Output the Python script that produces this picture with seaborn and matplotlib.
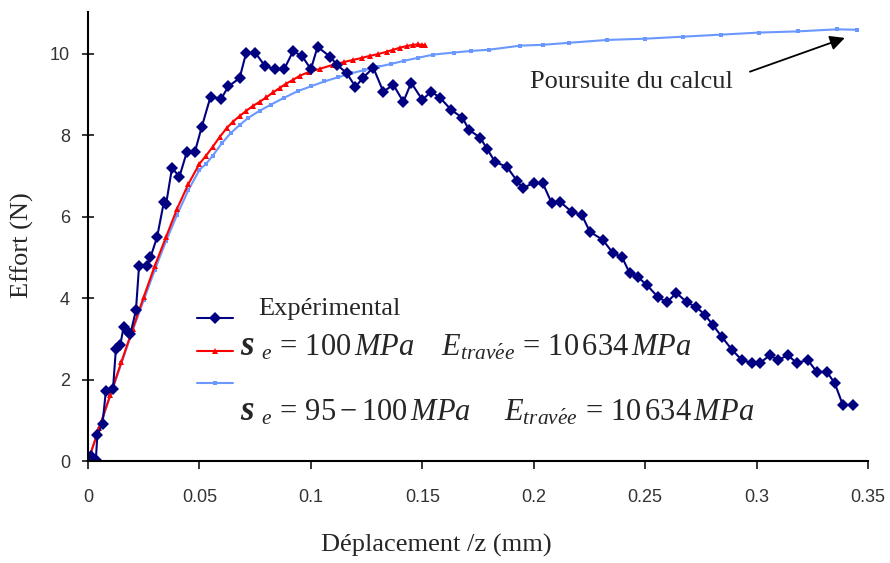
import pandas as pd
import seaborn as sns
import matplotlib.pyplot as plt

# Experimental curve (displacement in mm, force in N)
exp_x = [0.0013, 0.0035, 0.0042, 0.0065, 0.008, 0.0112, 0.0125, 0.0145, 0.016, 0.018,
         0.019, 0.0215, 0.0229, 0.0265, 0.028, 0.031, 0.034, 0.035, 0.0377, 0.041,
         0.0444, 0.048, 0.051, 0.055, 0.0597, 0.063, 0.068, 0.071, 0.075, 0.0794,
         0.084, 0.088, 0.092, 0.096, 0.1, 0.103, 0.1086, 0.1117, 0.116, 0.12,
         0.1234, 0.128, 0.1325, 0.137, 0.1415, 0.145, 0.15, 0.154, 0.158, 0.163,
         0.168, 0.171, 0.176, 0.179, 0.1826, 0.188, 0.1925, 0.195, 0.2, 0.204,
         0.208, 0.212, 0.217, 0.2216, 0.2252, 0.231, 0.2355, 0.2396, 0.243, 0.2467,
         0.2508, 0.2557, 0.2598, 0.264, 0.2687, 0.273, 0.2768, 0.2804, 0.2844, 0.289,
         0.2934, 0.298, 0.3015, 0.306, 0.3096, 0.314, 0.318, 0.323, 0.327, 0.3315,
         0.335, 0.3387, 0.3432]
exp_y = [0.12, 0.03, 0.64, 0.91, 1.72, 1.76, 2.75, 2.86, 3.3, 3.17,
         3.12, 3.7, 4.79, 4.8, 5.0, 5.5, 6.35, 6.3, 7.2, 6.98,
         7.6, 7.6, 8.2, 8.95, 8.89, 9.2, 9.4, 10.03, 10.03, 9.7,
         9.62, 9.62, 10.06, 9.95, 9.62, 10.17, 9.93, 9.73, 9.53, 9.19,
         9.41, 9.66, 9.07, 9.24, 8.82, 9.29, 8.87, 9.07, 8.92, 8.62,
         8.43, 8.13, 7.94, 7.67, 7.35, 7.22, 6.88, 6.7, 6.83, 6.83,
         6.34, 6.36, 6.12, 6.04, 5.63, 5.43, 5.11, 5.01, 4.62, 4.52,
         4.32, 4.03, 3.9, 4.13, 3.9, 3.78, 3.59, 3.34, 3.05, 2.73,
         2.48, 2.41, 2.41, 2.6, 2.48, 2.6, 2.41, 2.48, 2.19, 2.19,
         1.92, 1.38, 1.38]

# Simulation, sigma_e = 100 MPa
red_x = [0.0, 0.005, 0.01, 0.015, 0.02, 0.025, 0.03, 0.035, 0.04, 0.045,
         0.05, 0.053, 0.056, 0.059, 0.0623, 0.065, 0.068, 0.071, 0.074, 0.077,
         0.08, 0.083, 0.086, 0.089, 0.092, 0.095, 0.099, 0.104, 0.11, 0.115,
         0.119, 0.123, 0.1265, 0.13, 0.134, 0.137, 0.14, 0.143, 0.146, 0.148,
         0.15, 0.151]
red_y = [0.0, 0.82, 1.63, 2.44, 3.24, 4.03, 4.8, 5.5, 6.2, 6.8,
         7.3, 7.5, 7.72, 7.95, 8.18, 8.33, 8.47, 8.6, 8.72, 8.82,
         8.93, 9.05, 9.16, 9.27, 9.36, 9.46, 9.55, 9.63, 9.73, 9.8,
         9.85, 9.9, 9.95, 9.99, 10.05, 10.1, 10.15, 10.19, 10.22, 10.23,
         10.22, 10.21]

# Simulation, sigma_e = 95-100 MPa (continued further)
blue_x = [0.0, 0.005, 0.01, 0.015, 0.02, 0.025, 0.03, 0.035, 0.04, 0.045,
          0.05, 0.053, 0.056, 0.06, 0.064, 0.068, 0.072, 0.077, 0.082, 0.088,
          0.094, 0.1, 0.106, 0.112, 0.118, 0.124, 0.13, 0.136, 0.142, 0.148,
          0.155, 0.164, 0.172, 0.18, 0.194, 0.204, 0.216, 0.233, 0.25, 0.267,
          0.284, 0.301, 0.3185, 0.336, 0.345]
blue_y = [0.0, 0.8, 1.6, 2.4, 3.2, 3.95, 4.7, 5.4, 6.05, 6.65,
          7.15, 7.3, 7.5, 7.8, 8.05, 8.25, 8.43, 8.6, 8.75, 8.92,
          9.08, 9.2, 9.32, 9.42, 9.52, 9.6, 9.68, 9.75, 9.83, 9.9,
          9.98, 10.03, 10.07, 10.1, 10.2, 10.22, 10.27, 10.34, 10.37, 10.42,
          10.47, 10.52, 10.55, 10.6, 10.59]

exp_df = pd.DataFrame({"x": exp_x, "y": exp_y})
red_df = pd.DataFrame({"x": red_x, "y": red_y})
blue_df = pd.DataFrame({"x": blue_x, "y": blue_y})

sns.set_style("ticks")
plt.rcParams["font.family"] = ["Liberation Serif", "DejaVu Serif"]
plt.rcParams["mathtext.fontset"] = "custom"
plt.rcParams["mathtext.rm"] = "Liberation Serif"
plt.rcParams["mathtext.it"] = "Liberation Serif:italic"
plt.rcParams["mathtext.bf"] = "Liberation Serif:bold"

fig = plt.figure(figsize=(8.9, 5.63), dpi=100)
ax = fig.add_axes([0.0989, 0.181, 0.8764, 0.798])

navy = "#000080"
red = "#ff0000"
light_blue = "#6a98ff"

sns.lineplot(data=blue_df, x="x", y="y", ax=ax, color=light_blue, lw=1.5,
             marker="s", markersize=3.5, markeredgewidth=0, sort=False,
             estimator=None, legend=False)
sns.lineplot(data=red_df, x="x", y="y", ax=ax, color=red, lw=1.5,
             marker="^", markersize=5, markeredgewidth=0, sort=False,
             estimator=None, legend=False)
sns.lineplot(data=exp_df, x="x", y="y", ax=ax, color=navy, lw=1.5,
             marker="D", markersize=6.5, markeredgewidth=0, sort=False,
             estimator=None, legend=False)

ax.set_xlim(0, 0.35)
ax.set_ylim(0, 11.03)
ax.set_xticks([0, 0.05, 0.1, 0.15, 0.2, 0.25, 0.3, 0.35])
ax.set_xticklabels(["0", "0.05", "0.1", "0.15", "0.2", "0.25", "0.3", "0.35"])
ax.set_yticks([0, 2, 4, 6, 8, 10])
sns.despine(ax=ax)
for s in ["left", "bottom"]:
    ax.spines[s].set_linewidth(1.5)
    ax.spines[s].set_color("black")
ax.tick_params(axis="x", direction="out", length=6, width=1.3, pad=14)
ax.tick_params(axis="y", direction="inout", length=8, width=1.3, pad=9)
for lab in ax.get_xticklabels() + ax.get_yticklabels():
    lab.set_fontfamily("Liberation Sans")
    lab.set_fontsize(13)
    lab.set_color("#333333")

ax.set_xlabel("Déplacement /z (mm)", fontsize=19)
ax.set_ylabel("Effort (N)", fontsize=19)
ax.xaxis.set_label_coords(0.447, -0.163)
ax.yaxis.set_label_coords(-0.069, 0.48)

# Legend keys only; the labels are written as separate texts
lines = ax.get_lines()
ax.legend(handles=[lines[2], lines[1], lines[0]], labels=[" ", " ", " "],
          loc="upper left", bbox_to_anchor=(0.14, 0.333), frameon=False,
          fontsize=13, handlelength=2.0, borderpad=0, borderaxespad=0,
          labelspacing=0.85, handletextpad=0.2)

ax.text(0.218, 0.326, "Expérimental", transform=ax.transAxes,
        fontsize=19, va="baseline")

# sigma symbol rendered as a bold italic "s", as in the source figure
for yb, rest in [
    (0.236, r"$_{e}\,=\,100\,MPa\quad\; E_{trav\acute{e}e}\,=\,10\,634\,MPa$"),
    (0.091, r"$_{e}\,=\,95-100\,MPa\quad\;\; E_{trav\acute{e}e}\,=\,10\,634\,MPa$"),
]:
    ax.text(0.1955, yb, "s", transform=ax.transAxes, fontsize=25,
            fontweight="bold", fontstyle="italic", va="baseline")
    ax.text(0.222, yb, rest, transform=ax.transAxes, fontsize=22,
            va="baseline")

ax.text(0.1983, 9.31, "Poursuite du calcul", fontsize=19, va="center")
ax.annotate("", xy=(0.3396, 10.39), xytext=(0.297, 9.56),
            arrowprops=dict(arrowstyle="-|>", color="black", lw=1.3,
                            mutation_scale=22, shrinkA=0, shrinkB=0))

fig.savefig("out.png", dpi=100)
